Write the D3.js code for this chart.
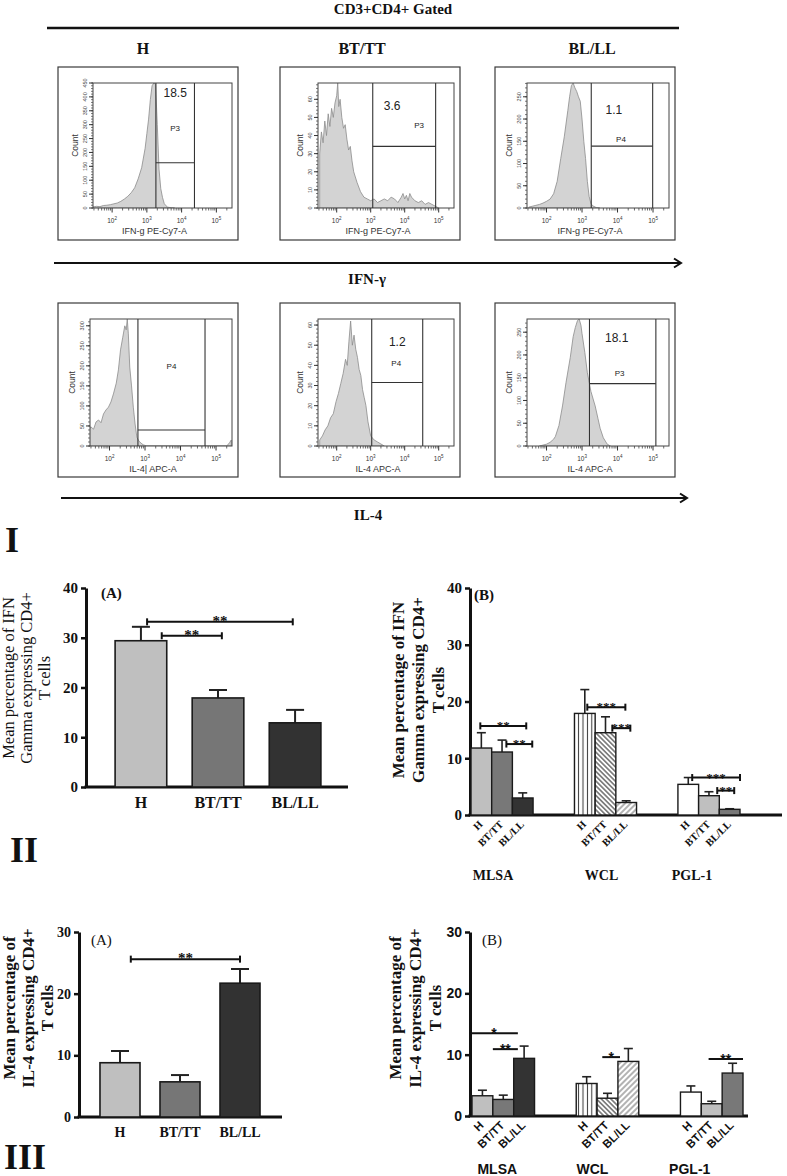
<!DOCTYPE html>
<html>
<head>
<meta charset="utf-8">
<script src="https://cdn.jsdelivr.net/npm/d3@7/dist/d3.min.js"></script>
<style>
html,body{margin:0;padding:0;background:#fff;}
svg{display:block;}
</style>
</head>
<body>
<svg id="fig" width="787" height="1176" xmlns="http://www.w3.org/2000/svg"></svg>
<script>
// ======================= DATA =======================
const groups = ["H", "BT/TT", "BL/LL"];
const antigens = ["MLSA", "WCL", "PGL-1"];
const flowMarkers = ["IFN-γ", "IL-4"];
const flowAxisTitles = [["IFN-g PE-Cy7-A", "IFN-g PE-Cy7-A", "IFN-g PE-Cy7-A"], ["IL-4| APC-A", "IL-4 APC-A", "IL-4 APC-A"]];
const flowPercent = [["18.5", "3.6", "1.1"], ["", "1.2", "18.1"]];
const flowGateNames = [["P3", "P3", "P4"], ["P4", "P4", "P3"]];
const flowGateLow = [[3.26, 3.06, 3.26], [2.80, 3.03, 3.21]];
const flowGateHigh = [[4.37, 4.91, 4.99], [4.69, 4.53, 5.08]];
const flowGateSplit = [[163, 34, 139], [40, 31.5, 137]];
const flowCountMax = [[450, 69, 281], [317, 63, 279]];
const flowCountStep = [[50, 10, 50], [50, 10, 50]];
const flowDecades = [2, 3, 4, 5];

// histograms (log10 fluorescence, event count)
const ifnH_log = [1.45,1.55,1.65,1.75,1.85,1.95,2.05,2.15,2.25,2.35,2.45,2.55,2.65,2.75,2.85,2.95,3.00,3.05,3.10,3.15,3.20,3.25,3.30,3.35,3.40,3.45,3.50,3.55,3.60,3.70,3.80];
const ifnH_cnt = [4,6,5,9,10,12,15,18,24,32,42,55,73,105,145,215,268,320,390,440,450,445,300,140,70,38,16,8,3,1,0];
const ifnBT_log = [1.50,1.55,1.60,1.65,1.70,1.75,1.80,1.85,1.90,1.95,2.00,2.03,2.06,2.10,2.15,2.20,2.25,2.30,2.35,2.40,2.45,2.50,2.60,2.70,2.80,2.90,3.00,3.10,3.20,3.30,3.40,3.50,3.60,3.70,3.80,3.90,3.95,4.00,4.05,4.10,4.15,4.20,4.30,4.40,4.50,4.60,4.70,4.80,4.90,5.00];
const ifnBT_cnt = [30,42,36,48,40,52,45,55,50,58,62,69,56,60,50,44,46,38,32,34,26,20,14,9,6,5,4,5,3,4,5,4,6,5,3,6,8,5,7,4,8,6,4,3,4,2,3,2,1,0];
const ifnBL_log = [1.50,1.60,1.70,1.80,1.90,2.00,2.10,2.20,2.30,2.40,2.50,2.60,2.65,2.70,2.75,2.80,2.85,2.90,2.95,3.00,3.05,3.10,3.15,3.20,3.25,3.30,3.40,3.50];
const ifnBL_cnt = [2,4,6,8,11,15,20,32,60,111,160,219,250,275,281,270,262,250,240,200,150,111,60,26,10,5,1,0];
const il4H_log = [1.40,1.47,1.55,1.62,1.69,1.76,1.83,1.90,1.97,2.04,2.11,2.19,2.25,2.31,2.37,2.43,2.47,2.50,2.53,2.57,2.62,2.67,2.72,2.77,2.83,2.89,2.95,3.05,5.30,5.38,5.43];
const il4H_cnt = [35,48,42,60,65,58,80,90,97,110,130,157,190,240,270,300,290,317,280,197,150,97,55,22,12,7,3,0,0,8,15];
const il4BT_log = [1.50,1.58,1.66,1.74,1.82,1.90,1.98,2.05,2.12,2.19,2.26,2.31,2.36,2.41,2.46,2.51,2.56,2.61,2.66,2.71,2.76,2.81,2.86,2.92,3.00,3.10,3.20,3.30,3.40];
const il4BT_cnt = [3,5,8,10,14,16,22,26,31,36,43,40,52,62,50,55,48,44,38,35,28,24,20,12,5,3,2,1,0];
const il4BL_log = [1.80,1.90,2.00,2.10,2.20,2.25,2.35,2.45,2.55,2.67,2.75,2.81,2.87,2.92,2.97,3.00,3.08,3.15,3.25,3.37,3.45,3.51,3.60,3.71,3.80];
const il4BL_cnt = [0,2,4,8,15,21,45,88,140,195,240,260,275,279,265,247,205,161,120,88,60,39,18,4,0];
const flowLogs = [[ifnH_log, ifnBT_log, ifnBL_log], [il4H_log, il4BT_log, il4BL_log]];
const flowCounts = [[ifnH_cnt, ifnBT_cnt, ifnBL_cnt], [il4H_cnt, il4BT_cnt, il4BL_cnt]];

// bar charts: mean and SEM (upper whisker)
const ifnTicks = [0, 10, 20, 30, 40];
const il4Ticks = [0, 10, 20, 30];
const ifnTotal_mean = [29.4, 17.9, 12.9];
const ifnTotal_sem  = [2.8, 1.6, 2.6];
const ifnAg_mean = [[11.8, 11.1, 3.0], [17.9, 14.5, 2.2], [5.4, 3.4, 1.0]];
const ifnAg_sem  = [[2.7, 2.1, 0.9], [4.2, 2.8, 0.3], [1.2, 0.7, 0.1]];
const il4Total_mean = [8.8, 5.7, 21.7];
const il4Total_sem  = [1.9, 1.1, 2.3];
const il4Ag_mean = [[3.3, 2.7, 9.4], [5.3, 2.9, 8.9], [3.9, 2.0, 7.0]];
const il4Ag_sem  = [[0.9, 0.7, 2.0], [1.1, 0.8, 2.1], [1.0, 0.4, 1.6]];

// significance brackets: from/to in bar-index units, y in data units
const sigIfnTotal = [{from: 0.08, to: 1.97, y: 33.2, label: "**"}, {from: 0.27, to: 1.05, y: 30.4, label: "**"}];
const sigIfnAg = [
  {ag: 0, from: -0.05, to: 2.17, y: 15.7, label: "**"}, {ag: 0, from: 1.21, to: 2.46, y: 12.5, label: "**"},
  {ag: 1, from: 0.12, to: 1.96, y: 19.0, label: "***"}, {ag: 1, from: 1.33, to: 2.2, y: 15.3, label: "***"},
  {ag: 2, from: 0.19, to: 2.5, y: 6.6, label: "***"}, {ag: 2, from: 1.4, to: 2.22, y: 4.3, label: "**"}];
const sigIl4Total = [{from: 0.18, to: 2.0, y: 25.6, label: "**"}];
const sigIl4Ag = [
  {ag: 0, from: -0.6, to: 1.7, y: 13.5, label: "*"}, {ag: 0, from: 0.5, to: 1.7, y: 10.9, label: "**"},
  {ag: 1, from: 0.75, to: 1.6, y: 9.6, label: "*"},
  {ag: 2, from: 0.85, to: 2.5, y: 9.3, label: "**"}];

// ======================= STYLE / LAYOUT =======================
const SERIF = "'Liberation Serif','Times New Roman',serif";
const SANS = "'Liberation Sans',Arial,sans-serif";
const svg = d3.select("#fig");
const defs = svg.append("defs");

function hatch(id, angle, spacing, color, width) {
  const p = defs.append("pattern").attr("id", id).attr("patternUnits", "userSpaceOnUse")
    .attr("width", spacing).attr("height", spacing).attr("patternTransform", `rotate(${angle})`);
  p.append("rect").attr("width", spacing).attr("height", spacing).attr("fill", "#fff");
  p.append("line").attr("x1", spacing / 2).attr("x2", spacing / 2).attr("y1", -1).attr("y2", spacing + 1)
    .attr("stroke", color).attr("stroke-width", width);
}
hatch("vstripe", 0, 4.4, "#333", 1);
hatch("dback", -45, 3.4, "#222", 1);
hatch("dfwd", 45, 4.0, "#555", 0.9);

const simpleFills = ["#bfbfbf", "#767676", "#323232"];
const agFills = [["#bfbfbf", "#787878", "#333333"], ["url(#vstripe)", "url(#dback)", "url(#dfwd)"], ["#ffffff", "#bfbfbf", "#787878"]];

function txt(x, y, s, size, opts = {}) {
  return svg.append("text").attr("x", x).attr("y", y).text(s)
    .attr("font-family", opts.family || SERIF).attr("font-size", size)
    .attr("font-weight", opts.weight || "normal").attr("fill", opts.fill || "#111")
    .attr("text-anchor", opts.anchor || "middle");
}
function vtitle(lines, xs, cy, size, weight, family) {
  lines.forEach((t, i) => {
    svg.append("text").attr("transform", `translate(${xs[i]},${cy}) rotate(-90)`)
      .attr("text-anchor", "middle").attr("font-family", family || SERIF).attr("font-size", size)
      .attr("font-weight", weight).attr("fill", "#111").text(t);
  });
}

// ======================= PART I : FLOW =======================
txt(393, 14, "CD3+CD4+ Gated", 15, {weight: "bold"});
svg.append("line").attr("x1", 47).attr("x2", 679).attr("y1", 28).attr("y2", 28).attr("stroke", "#111").attr("stroke-width", 2.5);
const headerX = [143, 362, 592];
groups.forEach((g, i) => txt(headerX[i], 54, g, 16, {weight: "bold"}));

const boxX = [58, 280, 495];
const boxY = [67, 303];
const boxH = [173, 174];
const plotLOff = [[35, 38, 32], [32, 38, 32]];
const plotROff = 174;
const plotBOff = [141, 143];
const pctOff = [[[0, 10], [-12, 23], [-8, 27]], [[0, 0], [0, 23], [-6, 19]]];
const nameOff = [[[0, 45], [15, 42], [-1, 56]], [[0, 47], [-1, 44], [-3, 54]]];
const supers = {2: "2", 3: "3", 4: "4", 5: "5"};

function flowPanel(r, c) {
  const bx = boxX[c], by = boxY[r];
  const g = svg.append("g");
  g.append("rect").attr("x", bx).attr("y", by).attr("width", 180).attr("height", boxH[r])
    .attr("fill", "#fff").attr("stroke", "#3a3a3a").attr("stroke-width", 1.2);
  const pl = bx + plotLOff[r][c], pr = bx + plotROff, pt = by + 16, pb = by + plotBOff[r];
  const x = d3.scaleLinear().domain([1.45, 5.45]).range([pl, pr]);
  const y = d3.scaleLinear().domain([0, flowCountMax[r][c]]).range([pb, pt]);
  const cid = `clip${r}${c}`;
  defs.append("clipPath").attr("id", cid).append("rect").attr("x", pl).attr("y", pt).attr("width", pr - pl).attr("height", pb - pt);
  const pts = flowLogs[r][c].map((v, i) => [v, flowCounts[r][c][i]]);
  const area = d3.area().x(d => x(d[0])).y0(y(0)).y1(d => y(d[1]));
  g.append("path").datum(pts).attr("d", area).attr("clip-path", `url(#${cid})`)
    .attr("fill", "#d3d3d3").attr("stroke", "#8c8c8c").attr("stroke-width", 0.8);
  g.append("rect").attr("x", pl).attr("y", pt).attr("width", pr - pl).attr("height", pb - pt)
    .attr("fill", "none").attr("stroke", "#444").attr("stroke-width", 1);
  // gate
  const gl = x(flowGateLow[r][c]), gh = x(flowGateHigh[r][c]), gs = y(flowGateSplit[r][c]);
  [gl, gh].forEach(xx => g.append("line").attr("x1", xx).attr("x2", xx).attr("y1", pt).attr("y2", pb).attr("stroke", "#333").attr("stroke-width", 1.1));
  g.append("line").attr("x1", gl).attr("x2", gh).attr("y1", gs).attr("y2", gs).attr("stroke", "#333").attr("stroke-width", 1.1);
  const gc = (gl + gh) / 2;
  if (flowPercent[r][c]) {
    g.append("text").attr("x", gc + pctOff[r][c][0]).attr("y", pt + pctOff[r][c][1]).attr("dominant-baseline", "central")
      .attr("text-anchor", "middle").attr("font-family", SANS).attr("font-size", 12).attr("fill", "#222").text(flowPercent[r][c]);
  }
  g.append("text").attr("x", gc + nameOff[r][c][0]).attr("y", pt + nameOff[r][c][1]).attr("dominant-baseline", "central")
    .attr("text-anchor", "middle").attr("font-family", SANS).attr("font-size", 8).attr("fill", "#222").text(flowGateNames[r][c]);
  // x axis ticks (log)
  const minor = [];
  for (let n = 1; n <= 5; n++) for (let k = 2; k <= 9; k++) { const v = n + Math.log10(k); if (v > 1.45 && v < 5.45) minor.push(v); }
  g.selectAll(null).data(minor).enter().append("line").attr("x1", d => x(d)).attr("x2", d => x(d))
    .attr("y1", pb).attr("y2", pb + 2.5).attr("stroke", "#444").attr("stroke-width", 0.8);
  g.selectAll(null).data(flowDecades).enter().append("line").attr("x1", d => x(d)).attr("x2", d => x(d))
    .attr("y1", pb).attr("y2", pb + 4.5).attr("stroke", "#333").attr("stroke-width", 1);
  const lab = g.selectAll(null).data(flowDecades).enter().append("text").attr("x", d => x(d)).attr("y", pb + 15)
    .attr("text-anchor", "middle").attr("font-family", SANS).attr("font-size", 6.5).attr("fill", "#333");
  lab.append("tspan").text("10");
  lab.append("tspan").attr("dy", -3).attr("font-size", 4.5).text(d => supers[d]);
  // y axis ticks
  const step = flowCountStep[r][c], ymax = flowCountMax[r][c];
  const majors = d3.range(0, ymax + 0.01, step);
  const minors = d3.range(0, ymax + 0.01, step / 5);
  g.selectAll(null).data(minors).enter().append("line").attr("x1", pl - 2).attr("x2", pl)
    .attr("y1", d => y(d)).attr("y2", d => y(d)).attr("stroke", "#444").attr("stroke-width", 0.7);
  g.selectAll(null).data(majors).enter().append("line").attr("x1", pl - 4).attr("x2", pl)
    .attr("y1", d => y(d)).attr("y2", d => y(d)).attr("stroke", "#333").attr("stroke-width", 1);
  g.selectAll(null).data(majors).enter().append("text")
    .attr("transform", d => `translate(${pl - 6},${y(d)}) rotate(-90)`).attr("text-anchor", "middle")
    .attr("font-family", SANS).attr("font-size", 5.5).attr("fill", "#444").text(d => d);
  g.append("text").attr("transform", `translate(${pl - 15},${(pt + pb) / 2}) rotate(-90)`).attr("text-anchor", "middle")
    .attr("font-family", SANS).attr("font-size", 8.5).attr("fill", "#333").text("Count");
  g.append("text").attr("x", (pl + pr) / 2 - 8).attr("y", pb + 26).attr("text-anchor", "middle")
    .attr("font-family", SANS).attr("font-size", 9).attr("fill", "#333").text(flowAxisTitles[r][c]);
}
[0, 1].forEach(r => [0, 1, 2].forEach(c => flowPanel(r, c)));

function arrow(x1, x2, yy) {
  svg.append("line").attr("x1", x1).attr("x2", x2).attr("y1", yy).attr("y2", yy).attr("stroke", "#111").attr("stroke-width", 2.2);
  svg.append("path").attr("d", `M${x2 - 7},${yy - 4.5} L${x2},${yy} L${x2 - 7},${yy + 4.5}`).attr("fill", "none").attr("stroke", "#111").attr("stroke-width", 2);
}
arrow(54, 681, 263);
txt(367, 284, flowMarkers[0], 15, {weight: "bold"});
arrow(61, 687, 498);
txt(368, 520, flowMarkers[1], 15, {weight: "bold"});

// section labels
txt(12, 552, "I", 36, {weight: "bold"});
txt(24, 862, "II", 36, {weight: "bold"});
txt(25, 1169, "III", 36, {weight: "bold"});

// ======================= BAR CHART HELPERS =======================
function styleAxis(ax, size, family) {
  ax.select(".domain").attr("stroke", "#111").attr("stroke-width", 3);
  ax.selectAll(".tick line").attr("stroke", "#111").attr("stroke-width", 2.5);
  ax.selectAll(".tick text").attr("font-family", family).attr("font-weight", "bold").attr("font-size", size).attr("fill", "#111");
}
function sigLine(x1, x2, yy, label, caps, family, size, off) {
  svg.append("line").attr("x1", x1).attr("x2", x2).attr("y1", yy).attr("y2", yy).attr("stroke", "#111").attr("stroke-width", 2);
  if (caps) [x1, x2].forEach(xx => svg.append("line").attr("x1", xx).attr("x2", xx).attr("y1", yy - 3.5).attr("y2", yy + 3.5).attr("stroke", "#111").attr("stroke-width", 2));
  svg.append("text").attr("x", (x1 + x2) / 2).attr("y", yy + off).attr("text-anchor", "middle")
    .attr("font-family", family).attr("font-weight", "bold").attr("font-size", size).attr("fill", "#111").text(label);
}

function simpleChart(cfg) {
  const x = d3.scaleBand().domain(groups).range(cfg.xr).paddingInner(cfg.pi).paddingOuter(cfg.po);
  const y = d3.scaleLinear().domain([0, cfg.ymax]).range(cfg.yr);
  const ax = svg.append("g").attr("transform", `translate(${cfg.ax},0)`)
    .call(d3.axisLeft(y).tickValues(cfg.ticks).tickSize(5).tickPadding(3).tickSizeOuter(0));
  styleAxis(ax, cfg.tickSize, cfg.tickFamily);
  svg.append("line").attr("x1", cfg.ax - 1.5).attr("x2", cfg.axEnd).attr("y1", y(0)).attr("y2", y(0)).attr("stroke", "#111").attr("stroke-width", 3);
  groups.forEach((gname, i) => {
    const x0 = x(gname), w = x.bandwidth(), cx = x0 + w / 2;
    const m = cfg.mean[i], s = cfg.sem[i];
    svg.append("line").attr("x1", cx).attr("x2", cx).attr("y1", y(m)).attr("y2", y(m + s)).attr("stroke", "#222").attr("stroke-width", 2);
    svg.append("line").attr("x1", cx - cfg.capW / 2).attr("x2", cx + cfg.capW / 2).attr("y1", y(m + s)).attr("y2", y(m + s)).attr("stroke", "#222").attr("stroke-width", 2);
    svg.append("rect").attr("x", x0).attr("y", y(m)).attr("width", w).attr("height", y(0) - y(m))
      .attr("fill", simpleFills[i]).attr("stroke", "#1a1a1a").attr("stroke-width", 1.6);
    txt(cx, cfg.labelY, gname, cfg.labelSize, {weight: "bold"});
  });
  const c0 = x(groups[0]) + x.bandwidth() / 2, st = x.step();
  cfg.sig.forEach(sg => sigLine(c0 + sg.from * st, c0 + sg.to * st, y(sg.y), sg.label, true, SERIF, 15, 4));
  txt(cfg.panelPos[0], cfg.panelPos[1], cfg.panel, cfg.panelSize, {weight: cfg.panelWeight, anchor: "start"});
}

function groupedChart(cfg) {
  const x0 = d3.scaleBand().domain(antigens).range(cfg.xr).paddingInner(cfg.pi).paddingOuter(0);
  const x1 = d3.scaleBand().domain(groups).range([0, x0.bandwidth()]).padding(0);
  const y = d3.scaleLinear().domain([0, cfg.ymax]).range(cfg.yr);
  const ax = svg.append("g").attr("transform", `translate(${cfg.ax},0)`)
    .call(d3.axisLeft(y).tickValues(cfg.ticks).tickSize(5).tickPadding(3).tickSizeOuter(0));
  styleAxis(ax, cfg.tickSize, cfg.tickFamily);
  svg.append("line").attr("x1", cfg.ax - 1.5).attr("x2", cfg.axEnd).attr("y1", y(0)).attr("y2", y(0)).attr("stroke", "#111").attr("stroke-width", 3);
  antigens.forEach((ag, a) => {
    groups.forEach((gname, i) => {
      const xx = x0(ag) + x1(gname), w = x1.bandwidth(), cx = xx + w / 2;
      const m = cfg.mean[a][i], s = cfg.sem[a][i];
      svg.append("line").attr("x1", cx).attr("x2", cx).attr("y1", y(m)).attr("y2", y(m + s)).attr("stroke", "#222").attr("stroke-width", 1.6);
      svg.append("line").attr("x1", cx - cfg.capW / 2).attr("x2", cx + cfg.capW / 2).attr("y1", y(m + s)).attr("y2", y(m + s)).attr("stroke", "#222").attr("stroke-width", 1.6);
      svg.append("rect").attr("x", xx).attr("y", y(m)).attr("width", w).attr("height", y(0) - y(m))
        .attr("fill", agFills[a][i]).attr("stroke", "#1a1a1a").attr("stroke-width", 1.4);
      svg.append("text").attr("transform", `translate(${cx + 2},${y(0) + 10}) rotate(-45)`)
        .attr("text-anchor", "end").attr("font-family", cfg.rotFamily).attr("font-weight", "bold")
        .attr("font-size", cfg.rotSize).attr("fill", "#111").text(gname);
    });
    txt(x0(ag) + x0.bandwidth() / 2 + cfg.agDx[a], cfg.agY, ag, cfg.agSize, {weight: "bold", family: cfg.agFamily});
  });
  cfg.sig.forEach(sg => {
    const c0 = x0(antigens[sg.ag]) + x1.bandwidth() / 2, st = x1.step();
    sigLine(c0 + sg.from * st, c0 + sg.to * st, y(sg.y), sg.label, cfg.caps, cfg.sigFamily, cfg.sigSize, cfg.sigOff);
  });
  txt(cfg.panelPos[0], cfg.panelPos[1], cfg.panel, cfg.panelSize, {weight: cfg.panelWeight, anchor: "start"});
}

// ======================= PART II : IFN-γ =======================
simpleChart({xr: [102, 334], pi: 0.33, po: 0.17, yr: [787, 588], ymax: 40, ticks: ifnTicks, ax: 86, axEnd: 348,
  tickSize: 15, tickFamily: SERIF, mean: ifnTotal_mean, sem: ifnTotal_sem, capW: 18, labelY: 808, labelSize: 16,
  sig: sigIfnTotal, panel: "(A)", panelPos: [101, 598], panelSize: 15, panelWeight: "bold"});
vtitle(["Mean percentage of IFN", "Gamma expressing CD4+", "T cells"], [14, 32, 50], 678, 16.5, "normal");

groupedChart({xr: [471, 740], pi: 0.4, yr: [815, 588], ymax: 40, ticks: ifnTicks, ax: 470, axEnd: 782,
  tickSize: 15, tickFamily: SERIF, mean: ifnAg_mean, sem: ifnAg_sem, capW: 9, rotFamily: SERIF, rotSize: 10.5,
  agY: 880, agSize: 14, agFamily: SERIF, agDx: [-9, -4, -17], sig: sigIfnAg, caps: true, sigFamily: SERIF, sigSize: 13, sigOff: 4,
  panel: "(B)", panelPos: [474, 600], panelSize: 15, panelWeight: "bold"});
vtitle(["Mean percentage of IFN", "Gamma expressing CD4+", "T cells"], [404, 424, 444], 690, 17, "bold");

// ======================= PART III : IL-4 =======================
simpleChart({xr: [80, 280], pi: 0.333, po: 0.333, yr: [1117, 932], ymax: 30, ticks: il4Ticks, ax: 79, axEnd: 282,
  tickSize: 14, tickFamily: SERIF, mean: il4Total_mean, sem: il4Total_sem, capW: 18, labelY: 1137, labelSize: 14,
  sig: sigIl4Total, panel: "(A)", panelPos: [91, 945], panelSize: 15, panelWeight: "normal"});
vtitle(["Mean percentage of", "IL-4 expressing CD4+", "T cells"], [15, 34, 53], 1008, 17, "bold");

groupedChart({xr: [472, 743], pi: 0.4, yr: [1116, 932], ymax: 30, ticks: il4Ticks, ax: 470, axEnd: 748,
  tickSize: 14, tickFamily: SANS, mean: il4Ag_mean, sem: il4Ag_sem, capW: 9, rotFamily: SANS, rotSize: 11.5,
  agY: 1174, agSize: 14, agFamily: SANS, agDx: [-6, -15, -22], sig: sigIl4Ag, caps: false, sigFamily: SANS, sigSize: 14, sigOff: 5,
  panel: "(B)", panelPos: [482, 945], panelSize: 15, panelWeight: "normal"});
vtitle(["Mean percentage of", "IL-4 expressing CD4+", "T cells"], [401, 421, 441], 1008, 17, "bold");
</script>
</body>
</html>
